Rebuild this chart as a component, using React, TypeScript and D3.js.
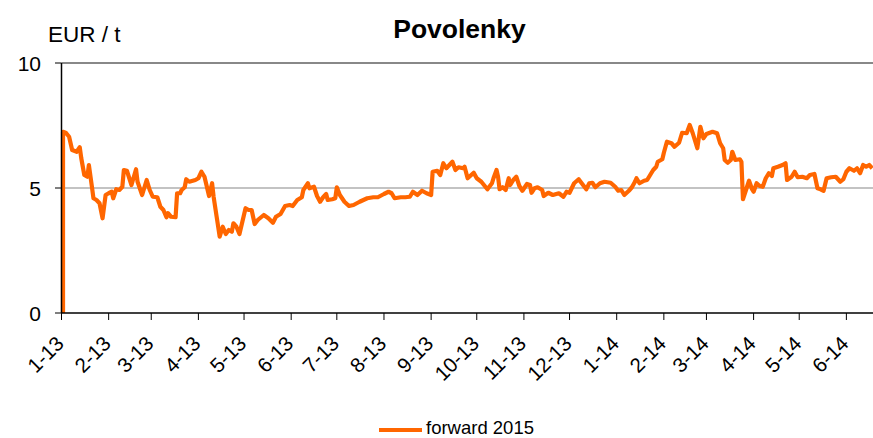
import React from "react";
import * as d3 from "d3";

// Series: days since 1 Jan 2013, and forward 2015 EUA price (EUR/t)
const dayOffsets: number[] = [
  1, 1, 3, 5, 7, 10, 12, 13, 15, 17, 18, 20, 21, 23, 25, 27, 29, 31, 33, 34, 36, 38, 40, 41, 43, 46, 49, 50,
  53, 56, 58, 60, 63, 65, 67, 69, 70, 72, 75, 76, 78, 79, 81, 82, 84, 88, 90, 92, 94, 97, 99, 100, 102, 104,
  106, 108, 110, 112, 113, 115, 117, 121, 123, 125, 127, 129, 133, 136, 139, 141, 144,
  147, 150, 152, 155, 158, 159, 162, 163, 166, 168, 170, 172, 174, 175, 178, 180, 181, 183, 186, 189, 192,
  196, 201, 205, 208, 212, 215, 217, 219, 223, 226, 229, 231, 234, 237, 240, 243, 244, 247, 249, 251, 253,
  257, 259, 261, 264, 265, 267, 271, 273, 276, 280,
  283, 284, 286, 287, 288, 290, 292, 294, 295, 297, 299, 301, 303, 306, 308, 309, 311, 313, 316, 317, 320,
  323, 327, 330, 332, 334, 337, 340, 342, 345, 347, 349, 351, 354, 357, 361, 364, 366, 368, 370, 373, 375,
  377, 378, 380, 383, 385, 387, 389, 391, 392, 395, 396, 398, 401, 403, 406, 408, 411, 413, 415, 418, 420,
  422, 424, 428, 431, 433, 435, 436, 438, 440, 441, 443, 446, 447, 448, 450, 452, 454, 455, 457, 459, 461,
  463, 465, 467, 468, 471, 474, 476, 477, 480, 482, 484, 487, 490, 492, 495, 497, 499, 501, 503, 506, 509,
  512, 514, 516, 518, 521, 523, 525, 527, 529, 531, 533,
];

const prices: number[] = [
  0, 7.25, 7.2, 7.05, 6.52, 6.45, 6.63, 6.19, 5.52, 5.45, 5.92, 5.05, 4.59, 4.52, 4.39, 3.79, 4.72, 4.79,
  4.85, 4.59, 4.95, 4.92, 5.05, 5.72, 5.69, 5.12, 5.75, 5.25, 4.72, 5.32, 4.92, 4.65, 4.63, 4.25, 4.12,
  3.83, 3.99, 3.85, 3.83, 4.79, 4.79, 4.92, 5.03, 5.35, 5.25, 5.32, 5.39, 5.65, 5.45, 4.68, 5.19, 4.65,
  3.85, 3.05, 3.45, 3.16, 3.32, 3.25, 3.59, 3.45, 3.16, 4.19, 4.12, 4.12, 3.56, 3.72, 3.92, 3.79, 3.61,
  3.85, 3.96,
  4.28, 4.32, 4.28, 4.52, 4.63, 4.92, 5.19, 4.99, 5.05, 4.68, 4.45, 4.63, 4.76, 4.52, 4.55, 4.59, 5.03,
  4.72, 4.45, 4.28, 4.32, 4.45, 4.59, 4.63, 4.63, 4.76, 4.85, 4.79, 4.59, 4.63, 4.63, 4.65, 4.85, 4.72,
  4.89, 4.79, 4.72, 5.65, 5.69, 5.52, 5.99, 5.79, 6.05, 5.72, 5.83, 5.79, 5.85, 5.39, 5.61, 5.39, 5.25,
  4.95,
  5.19, 5.39, 5.72, 5.45, 4.95, 5.03, 4.92, 5.39, 5.12, 5.32, 5.45, 5.08, 4.89, 5.16, 5.12, 4.81, 4.99,
  5.03, 4.92, 4.68, 4.81, 4.72, 4.79, 4.65, 4.85, 4.81, 5.19, 5.35, 5.19, 4.95, 5.19, 5.21, 5.03, 5.19,
  5.25, 5.21, 5.05, 4.89, 4.92, 4.72, 4.89, 5.03, 5.25, 5.39, 5.19, 5.29, 5.32, 5.52, 5.72, 5.85, 6.05,
  6.15, 6.41, 6.85, 6.79, 6.65, 6.81, 7.21, 7.19, 7.52, 7.19, 6.59, 7.45, 6.99, 7.16, 7.25, 7.19, 6.79,
  6.59, 6.12, 6.01, 6.12, 6.45, 6.12, 6.15, 6.05, 4.55, 4.92, 5.29, 4.95, 4.85, 5.19, 5.08, 5.05, 5.39,
  5.59, 5.48, 5.79, 5.85, 5.92, 5.99, 5.32, 5.45, 5.65, 5.43, 5.45, 5.39, 5.52, 5.56, 4.99, 4.95, 4.89,
  5.39, 5.43, 5.45, 5.25, 5.35, 5.65, 5.79, 5.69, 5.79, 5.59, 5.92, 5.85, 5.92, 5.79,
];

const yTicks: number[] = [0, 5, 10];
const monthTickLabels: string[] = [
  "1-13", "2-13", "3-13", "4-13", "5-13", "6-13", "7-13", "8-13", "9-13", "10-13", "11-13", "12-13",
  "1-14", "2-14", "3-14", "4-14", "5-14", "6-14",
];
const chartTitle = "Povolenky";
const unitLabel = "EUR / t";
const seriesName = "forward 2015";

const W = 873;
const H = 438;
const FONT = "'Liberation Sans', Arial, sans-serif";
const ORANGE = "#FF6600";

export default function App() {
  const start = new Date(Date.UTC(2013, 0, 1));
  const x = d3
    .scaleUtc()
    .domain([start, new Date(Date.UTC(2014, 0, 1))])
    .range([61.5, 616.7]);
  const y = d3.scaleLinear().domain([0, 10]).range([313, 63]);

  const pts = dayOffsets.map((d, i) => ({ date: d3.utcDay.offset(start, d), v: prices[i] }));
  const line = d3
    .line<{ date: Date; v: number }>()
    .x((d) => x(d.date))
    .y((d) => y(d.v));

  const monthDates = monthTickLabels.map((_, i) => d3.utcMonth.offset(start, i));
  const x0 = x.range()[0];
  const xEnd = W;

  return (
    <svg
      width={W}
      height={H}
      style={{ position: "absolute", left: 0, top: 0, background: "#fff" }}
      fontFamily={FONT}
    >
      <rect x={0} y={0} width={W} height={H} fill="#fff" />
      <text x={459.5} y={38} textAnchor="middle" fontSize={26.5} fontWeight="bold" fill="#000">
        {chartTitle}
      </text>
      <text x={48} y={42} fontSize={22.5} fill="#000">
        {unitLabel}
      </text>

      {/* gridlines */}
      {yTicks
        .filter((t) => t > 0)
        .map((t) => (
          <line
            key={"g" + t}
            x1={x0}
            x2={xEnd}
            y1={y(t)}
            y2={y(t)}
            stroke="#888"
            strokeWidth={t === 10 ? 2 : 1.2}
          />
        ))}

      {/* y ticks and labels */}
      {yTicks.map((t) => (
        <g key={"y" + t}>
          <line x1={55} x2={x0} y1={y(t)} y2={y(t)} stroke="#000" strokeWidth={1} />
          <text x={41} y={y(t)} dy="0.36em" textAnchor="end" fontSize={21} fill="#000">
            {t}
          </text>
        </g>
      ))}

      {/* x ticks and labels */}
      {monthDates.map((d, i) => {
        const xp = x(d);
        return (
          <g key={"x" + i}>
            <line x1={xp} x2={xp} y1={313} y2={320} stroke="#000" strokeWidth={1} />
            <text
              transform={`translate(${xp + 3.5},${345}) rotate(-45)`}
              textAnchor="end"
              fontSize={20.5}
              fill="#000"
            >
              {monthTickLabels[i]}
            </text>
          </g>
        );
      })}

      {/* series */}
      <path
        d={line(pts) || ""}
        fill="none"
        stroke={ORANGE}
        strokeWidth={4.2}
        strokeLinejoin="round"
        strokeLinecap="butt"
      />

      {/* axes */}
      <line x1={x0} x2={x0} y1={63} y2={313} stroke="#000" strokeWidth={1.5} />
      <line x1={x0} x2={xEnd} y1={313} y2={313} stroke="#000" strokeWidth={1.5} />

      {/* legend */}
      <line x1={379} x2={422} y1={430} y2={430} stroke={ORANGE} strokeWidth={4} />
      <text x={426} y={434} fontSize={18.5} fill="#000">
        {seriesName}
      </text>
    </svg>
  );
}
